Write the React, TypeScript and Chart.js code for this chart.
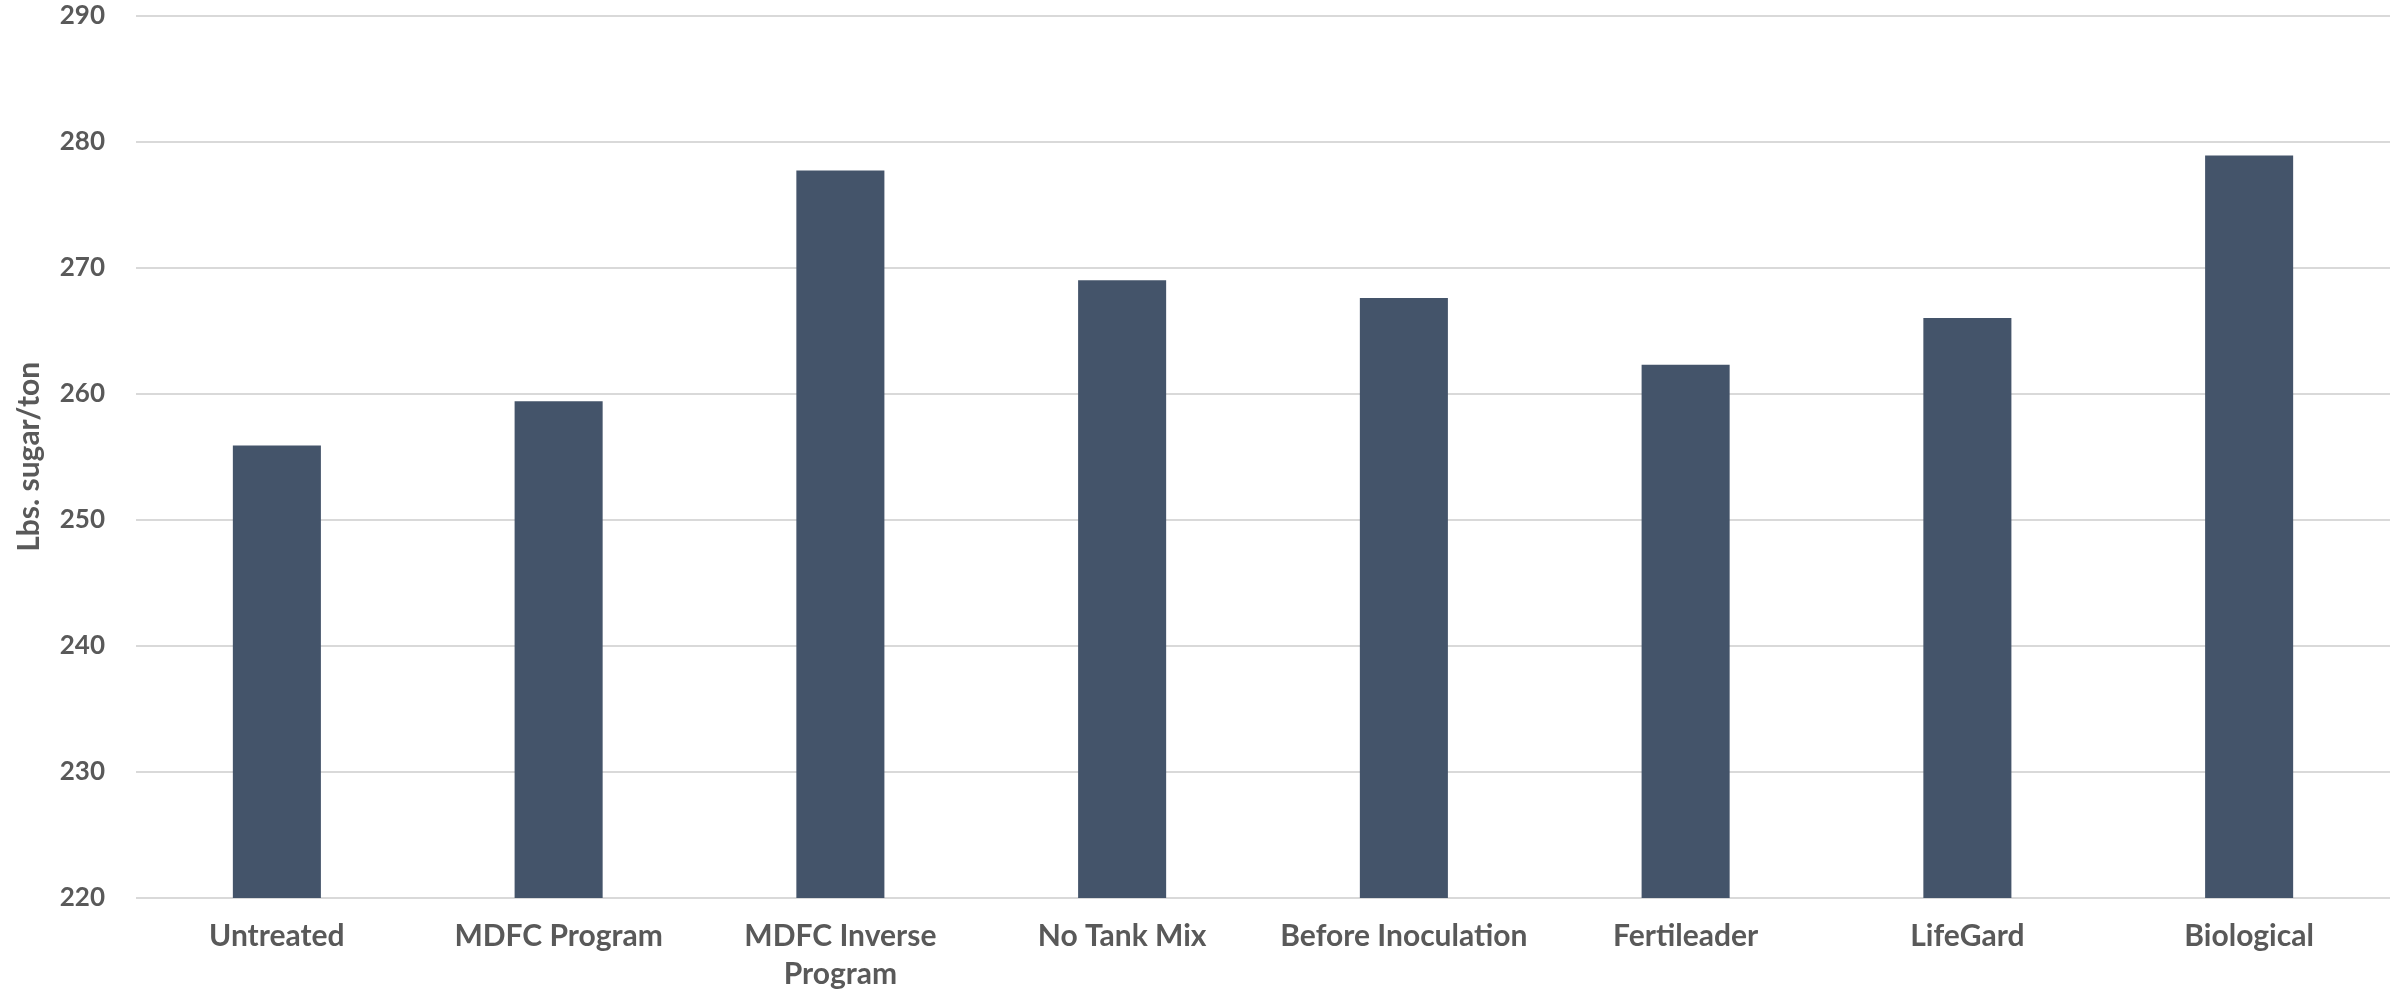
import React, { useEffect, useRef } from "react";
import { Chart, registerables } from "chart.js";

Chart.register(...registerables);

const categories: (string | string[])[] = [
  "Untreated",
  "MDFC Program",
  ["MDFC Inverse", "Program"],
  "No Tank Mix",
  "Before Inoculation",
  "Fertileader",
  "LifeGard",
  "Biological",
];
const sugarValues: number[] = [255.9, 259.4, 277.7, 269.0, 267.6, 262.3, 266.0, 278.9];
const yMin = 220;
const yMax = 290;
const yStep = 10;
const yTitle = "Lbs. sugar/ton";

export default function App() {
  const ref = useRef<HTMLCanvasElement | null>(null);
  useEffect(() => {
    document.body.style.margin = "0";
    if (!ref.current) return;
    const textColor = "#595959";
    const chart = new Chart(ref.current, {
      type: "bar",
      data: {
        labels: categories,
        datasets: [
          {
            data: sugarValues,
            backgroundColor: "#44546A",
            borderWidth: 0,
            categoryPercentage: 1,
            barPercentage: 0.3125,
          },
        ],
      },
      options: {
        animation: false,
        responsive: false,
        maintainAspectRatio: false,
        layout: { padding: { top: 0, right: 12, left: 0, bottom: 0 } },
        plugins: { legend: { display: false }, tooltip: { enabled: false } },
        scales: {
          x: {
            grid: { display: false, drawTicks: false },
            border: { display: false },
            ticks: {
              color: textColor,
              font: { family: "Lato", size: 30, weight: "bold", lineHeight: 1.25 },
              padding: 20,
              maxRotation: 0,
              autoSkip: false,
            },
            afterFit: (s: any) => {
              s.height = 95;
            },
          },
          y: {
            min: yMin,
            max: yMax,
            ticks: {
              stepSize: yStep,
              color: textColor,
              font: { family: "Lato", size: 26, weight: "bold" },
              padding: 31,
            },
            grid: { color: "#d9d9d9", lineWidth: 2, drawTicks: false },
            border: { display: false },
            title: {
              display: true,
              text: yTitle,
              color: textColor,
              font: { family: "Lato", size: 30, weight: "bold", lineHeight: 1.2 },
              padding: { top: 11, bottom: 0 },
            },
            afterFit: (s: any) => {
              s.width = 136;
              s.paddingTop = 15.5;
              s.paddingBottom = 15.5;
            },
          },
        },
      },
    });
    return () => chart.destroy();
  }, []);
  return (
    <div style={{ position: "absolute", left: 0, top: 0, width: 2402, height: 993 }}>
      <canvas ref={ref} width={2402} height={993} style={{ width: 2402, height: 993 }} />
    </div>
  );
}
